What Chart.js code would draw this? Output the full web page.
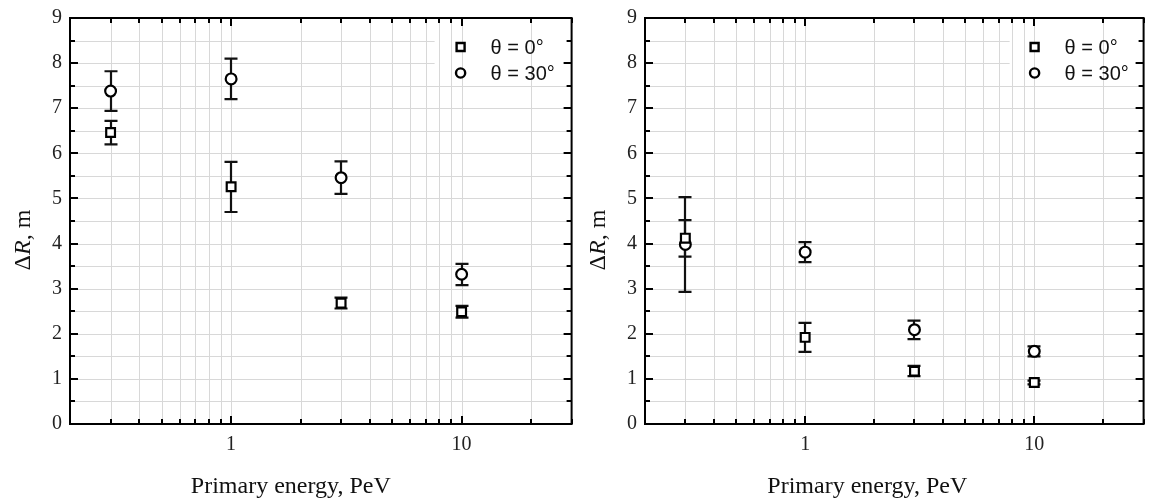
<!DOCTYPE html>
<html><head><meta charset="utf-8">
<script src="https://cdn.jsdelivr.net/npm/chart.js@4.4.1/dist/chart.umd.min.js"></script>
<style>
html,body{margin:0;padding:0;background:#fff;}
#wrap{position:relative;width:1152px;height:502px;overflow:hidden;}
.box{position:absolute;top:0;height:502px;}
#b1{left:0;width:580px;} #b2{left:580px;width:572px;}
canvas{display:block;}
</style></head><body>
<div id="wrap">
  <div class="box" id="b1"><canvas id="c1" width="580" height="502"></canvas></div>
  <div class="box" id="b2"><canvas id="c2" width="572" height="502"></canvas></div>
</div>
<script>
// ---- data ----
const energies = [0.3, 1, 3, 10];                 // Primary energy, PeV
const seriesNames = ['θ = 0°', 'θ = 30°'];

// left panel
const leftTheta0      = [6.46, 5.26, 2.68, 2.49];
const leftTheta0Low   = [6.20, 4.70, 2.56, 2.36];
const leftTheta0High  = [6.72, 5.81, 2.80, 2.62];
const leftTheta30     = [7.38, 7.65, 5.46, 3.32];
const leftTheta30Low  = [6.94, 7.20, 5.10, 3.08];
const leftTheta30High = [7.82, 8.10, 5.82, 3.55];

// right panel
const rightTheta0      = [4.12, 1.92, 1.17, 0.92];
const rightTheta0Low   = [3.71, 1.60, 1.06, 0.88];
const rightTheta0High  = [4.52, 2.24, 1.29, 0.96];
const rightTheta30     = [3.98, 3.81, 2.09, 1.61];
const rightTheta30Low  = [2.93, 3.59, 1.88, 1.50];
const rightTheta30High = [5.03, 4.03, 2.29, 1.72];

// axes
const xTickValues = [0.2,0.3,0.4,0.5,0.6,0.7,0.8,0.9,1,2,3,4,5,6,7,8,9,10,20,30];
const xMajorValues = [1, 10];
const xMajorLabels = ['1', '10'];
const yTickLabels = ['0','1','2','3','4','5','6','7','8','9'];
const xTitle = 'Primary energy, PeV';
const yTitleParts = ['Δ', 'R', ', m'];   // R in italic

const SERIF = '"Liberation Serif", "Times New Roman", serif';
const SANS = '"Liberation Sans", Arial, sans-serif';

const panelPlugin = {
  id: 'panel',
  beforeDatasetsDraw(chart) {
    const {ctx, chartArea: a, scales: {x, y}} = chart;
    const o = chart.options.plugins.panel;
    ctx.save();
    // horizontal grid
    ctx.strokeStyle = '#d8d8d8'; ctx.lineWidth = 1;
    y.ticks.forEach(t => {
      const p = Math.round(y.getPixelForValue(t.value)) + 0.5;
      if (p <= a.top + 1.5 || p >= a.bottom - 1.5) return;
      ctx.beginPath(); ctx.moveTo(a.left, p); ctx.lineTo(a.right, p); ctx.stroke();
    });
    // legend background
    ctx.fillStyle = '#fff';
    ctx.fillRect(a.right - o.legendBox, a.top + 2, o.legendBox, 64);
    // vertical grid
    x.ticks.forEach(t => {
      const p = Math.round(x.getPixelForValue(t.value)) + 0.5;
      if (p <= a.left + 1.5 || p >= a.right - 1.5) return;
      ctx.beginPath(); ctx.moveTo(p, a.top); ctx.lineTo(p, a.bottom); ctx.stroke();
    });
    // frame
    ctx.strokeStyle = '#000'; ctx.lineWidth = 2;
    ctx.strokeRect(a.left, a.top, a.right - a.left, a.bottom - a.top);
    // inward ticks
    ctx.lineWidth = 2;
    x.ticks.forEach(t => {
      const p = Math.round(x.getPixelForValue(t.value));
      const L = xMajorValues.includes(t.value) ? 8 : 5;
      ctx.beginPath();
      ctx.moveTo(p, a.bottom); ctx.lineTo(p, a.bottom - L);
      ctx.moveTo(p, a.top); ctx.lineTo(p, a.top + L);
      ctx.stroke();
    });
    y.ticks.forEach(t => {
      const p = Math.round(y.getPixelForValue(t.value));
      const L = Number.isInteger(t.value) ? 8 : 5;
      ctx.beginPath();
      ctx.moveTo(a.left, p); ctx.lineTo(a.left + L, p);
      ctx.moveTo(a.right, p); ctx.lineTo(a.right - L, p);
      ctx.stroke();
    });
    // error bars
    ctx.lineWidth = 2.2; ctx.strokeStyle = '#111';
    chart.data.datasets.forEach(ds => {
      ds.data.forEach((pt, i) => {
        const px = Math.round(x.getPixelForValue(pt.x));
        const y1 = y.getPixelForValue(ds.errLow[i]);
        const y2 = y.getPixelForValue(ds.errHigh[i]);
        ctx.beginPath();
        ctx.moveTo(px, y1); ctx.lineTo(px, y2);
        ctx.moveTo(px - 6.5, y1); ctx.lineTo(px + 6.5, y1);
        ctx.moveTo(px - 6.5, y2); ctx.lineTo(px + 6.5, y2);
        ctx.stroke();
      });
    });
    ctx.restore();
  },
  afterDraw(chart) {
    const {ctx, chartArea: a} = chart;
    const o = chart.options.plugins.panel;
    ctx.save();
    // legend
    const mx = a.right - o.legendMarker, tx = a.right - o.legendText;
    const rows = [a.top + 29, a.top + 55];
    chart.data.datasets.forEach((ds, i) => {
      const yy = rows[i];
      ctx.strokeStyle = '#000'; ctx.lineWidth = 2.4; ctx.fillStyle = '#fff';
      ctx.beginPath();
      if (ds.pointStyle === 'rect') ctx.rect(mx - 4, yy - 4, 8, 8);
      else ctx.arc(mx, yy, 4.6, 0, Math.PI * 2);
      ctx.fill(); ctx.stroke();
      ctx.fillStyle = '#111'; ctx.font = '20px ' + SANS;
      ctx.textAlign = 'left'; ctx.textBaseline = 'middle';
      ctx.fillText(ds.label, tx, yy + 1);
    });
    // x title
    ctx.fillStyle = '#111';
    ctx.font = '24px ' + SERIF; ctx.textAlign = 'center'; ctx.textBaseline = 'middle';
    ctx.fillText(xTitle, (a.left + a.right) / 2 + o.xTitleShift, a.bottom + 63);
    // y title with italic R
    ctx.translate(a.left - 46, (a.top + a.bottom) / 2 + o.yTitleShift);
    ctx.rotate(-Math.PI / 2);
    const fonts = ['24px ' + SERIF, 'italic 24px ' + SERIF, '24px ' + SERIF];
    let total = 0;
    const w = yTitleParts.map((s, i) => { ctx.font = fonts[i]; const m = ctx.measureText(s).width; total += m; return m; });
    let cx = -total / 2;
    ctx.textAlign = 'left'; ctx.textBaseline = 'middle';
    yTitleParts.forEach((s, i) => { ctx.font = fonts[i]; ctx.fillText(s, cx, 0); cx += w[i]; });
    ctx.restore();
  }
};

function makePanel(id, th0, th0Lo, th0Hi, th30, th30Lo, th30Hi, opt) {
  const pts = v => energies.map((e, i) => ({x: e, y: v[i]}));
  return new Chart(document.getElementById(id), {
    type: 'scatter',
    data: {
      datasets: [
        {label: seriesNames[0], data: pts(th0), errLow: th0Lo, errHigh: th0Hi,
         pointStyle: 'rect', pointRadius: 6.2, borderWidth: 2.2, borderColor: '#000', backgroundColor: '#fff'},
        {label: seriesNames[1], data: pts(th30), errLow: th30Lo, errHigh: th30Hi,
         pointStyle: 'circle', pointRadius: 5.4, borderWidth: 2.2, borderColor: '#000', backgroundColor: '#fff'}
      ]
    },
    options: {
      responsive: false, animation: false, events: [],
      layout: {padding: {left: 0, top: 18, right: opt.padRight, bottom: 0}},
      plugins: {
        legend: {display: false}, tooltip: {enabled: false},
        panel: opt
      },
      scales: {
        x: {
          type: 'logarithmic', min: 0.2, max: 30,
          afterBuildTicks: s => { s.ticks = xTickValues.map(v => ({value: v})); },
          afterFit: s => { s.height = 78; s.paddingLeft = 0; s.paddingRight = 0; },
          grid: {display: false, drawTicks: false}, border: {display: false},
          ticks: {
            autoSkip: false, maxRotation: 0, padding: 9, color: '#222',
            font: {family: SERIF, size: 20},
            callback: v => { const k = xMajorValues.indexOf(v); return k >= 0 ? xMajorLabels[k] : ''; }
          }
        },
        y: {
          min: 0, max: 9,
          afterFit: s => { s.width = opt.yWidth; s.paddingTop = 0; s.paddingBottom = 0; },
          grid: {display: false, drawTicks: false}, border: {display: false},
          ticks: {
            stepSize: 0.5, autoSkip: false, padding: 8, color: '#222',
            font: {family: SERIF, size: 20},
            callback: v => Number.isInteger(v) ? yTickLabels[v] : ''
          }
        }
      }
    },
    plugins: [panelPlugin]
  });
}

makePanel('c1', leftTheta0, leftTheta0Low, leftTheta0High, leftTheta30, leftTheta30Low, leftTheta30High,
  {yWidth: 70, padRight: 3, legendBox: 137, legendMarker: 111, legendText: 81, xTitleShift: -30, yTitleShift: 19});
makePanel('c2', rightTheta0, rightTheta0Low, rightTheta0High, rightTheta30, rightTheta30Low, rightTheta30High,
  {yWidth: 65, padRight: 5, legendBox: 134, legendMarker: 109, legendText: 79, xTitleShift: -27, yTitleShift: 19});
</script>
</body></html>
